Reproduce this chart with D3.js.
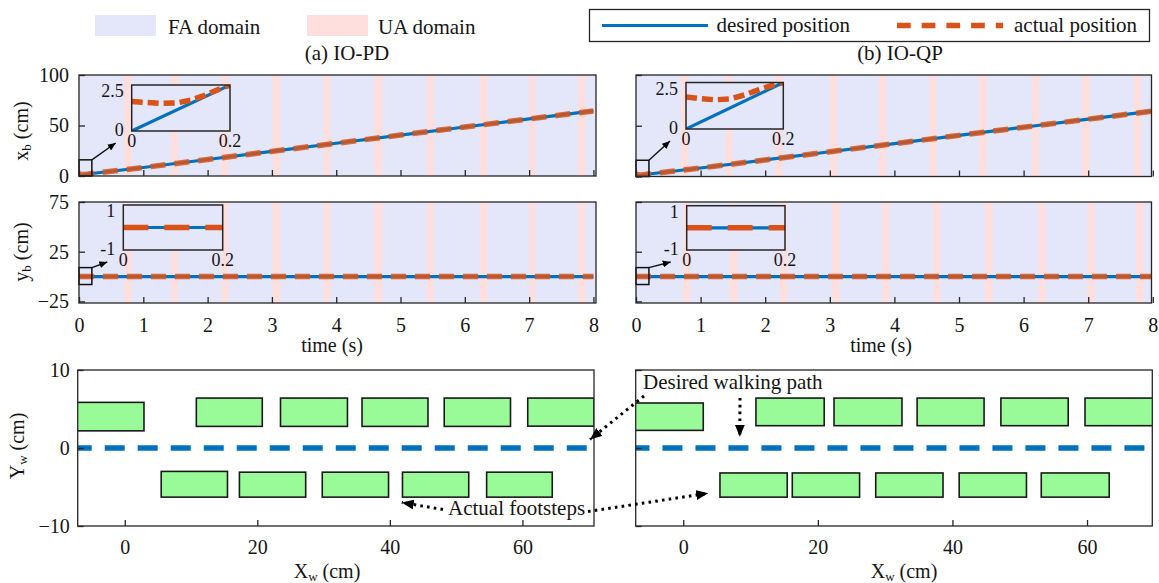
<!DOCTYPE html>
<html>
<head>
<meta charset="utf-8">
<script src="https://cdn.jsdelivr.net/npm/d3@7"></script>
<style>
  html, body { margin: 0; padding: 0; background: #fff; }
  svg { display: block; font-family: "Liberation Serif", "Times New Roman", serif; }
</style>
</head>
<body>
<svg id="fig" width="1159" height="583"></svg>
<script>
// ---- base position x_b (cm) over time (s) ----
const timeDesired = [0, 0.2, 1, 2, 3, 4, 5, 6, 7, 8];
const xbDesired   = [0, 2.5, 8.4, 16.3, 24.4, 32.4, 40.5, 48.5, 56.5, 64.4];
const timeActual  = [0, 0.03, 0.06, 0.09, 0.12, 0.15, 0.18, 0.2, 1, 2, 3, 4, 5, 6, 7, 8];
const xbActualPD  = [1.6, 1.55, 1.5, 1.52, 1.67, 1.95, 2.3, 2.5, 8.4, 16.3, 24.4, 32.4, 40.5, 48.5, 56.5, 64.4];
const xbActualQP  = [1.72, 1.63, 1.57, 1.62, 1.83, 2.12, 2.37, 2.5, 8.4, 16.3, 24.4, 32.4, 40.5, 48.5, 56.5, 64.4];

// ---- lateral position y_b (cm) ----
const ybTime      = [0, 8];
const ybDesired   = [0, 0];
const ybActualPD  = [0, 0];
const ybActualQP  = [0, 0];

// ---- underactuated (UA) intervals, s ----
const uaStartPD  = [0.70, 1.43, 2.21, 3.01, 3.80, 4.59, 5.41, 6.23, 7.00, 7.76];
const uaEndPD    = [0.82, 1.54, 2.32, 3.13, 3.91, 4.72, 5.52, 6.35, 7.10, 7.88];
const uaStartQPx = [0.70, 1.38, 2.16, 3.00, 3.76, 4.54, 5.31, 6.13, 6.90, 7.70];
const uaEndQPx   = [0.81, 1.49, 2.27, 3.11, 3.87, 4.65, 5.43, 6.24, 7.02, 7.82];
const uaStartQPy = [0.73, 1.45, 2.23, 3.03, 3.81, 4.60, 5.40, 6.23, 6.99, 7.74];
const uaEndQPy   = [0.84, 1.57, 2.34, 3.15, 3.92, 4.71, 5.52, 6.34, 7.10, 7.86];

// ---- tick values / labels ----
const timeTicks   = [0, 1, 2, 3, 4, 5, 6, 7, 8];
const xbTicks     = [0, 50, 100];
const ybTicks     = [-25, 25, 75];
const xwTicks     = [0, 20, 40, 60];
const ywTicks     = [-10, 0, 10];

// ---- footsteps in world frame (cm): x0, x1, y0, y1 ----
const stepPD_x0 = [-8, 10.8, 23.5, 35.8, 48.2, 60.8, 5.5, 17.3, 29.8, 41.9, 54.6];
const stepPD_x1 = [2.9, 20.75, 33.6, 45.75, 58.2, 70.8, 15.5, 27.3, 39.8, 51.9, 64.5];
const stepPD_y0 = [2.2, 2.77, 2.77, 2.77, 2.77, 2.8, -6.3, -6.3, -6.3, -6.3, -6.3];
const stepPD_y1 = [5.85, 6.4, 6.4, 6.4, 6.4, 6.4, -3.0, -3.1, -3.1, -3.1, -3.1];
const stepQP_x0 = [-8, 10.8, 22.4, 34.75, 47.2, 59.7, 5.45, 16.2, 28.6, 41.0, 53.2];
const stepQP_x1 = [2.97, 20.94, 32.5, 44.7, 57.2, 69.8, 15.45, 26.2, 38.6, 51.0, 63.3];
const stepQP_y0 = [2.26, 2.86, 2.86, 2.86, 2.86, 2.86, -6.3, -6.3, -6.3, -6.3, -6.3];
const stepQP_y1 = [5.77, 6.4, 6.4, 6.4, 6.4, 6.4, -3.2, -3.2, -3.2, -3.2, -3.2];
const pathX = [-8, 72];
const pathY = [0, 0];

// ---- styling ----
const FA = "#E4E6FA", UA = "#FFDEDE", BLUE = "#0072BD", ORANGE = "#D95319";
const AXIS = "#262626", TXT = "#151515", STEP = "#98FB98";

const svg = d3.select("#fig");
const defs = svg.append("defs");
svg.append("rect").attr("width", 1159).attr("height", 583).attr("fill", "#fff");

function addMarker(id, len, wid) {
  defs.append("marker").attr("id", id)
    .attr("viewBox", `0 0 ${len} ${wid}`)
    .attr("refX", len).attr("refY", wid / 2)
    .attr("markerWidth", len).attr("markerHeight", wid)
    .attr("markerUnits", "userSpaceOnUse").attr("orient", "auto")
    .append("path").attr("d", `M0,0L${len},${wid / 2}L0,${wid}Z`).attr("fill", "#000");
}
addMarker("tip", 8, 7);
addMarker("tipBig", 12, 10);

function styleAxis(a, fs) {
  a.select(".domain").remove();
  a.attr("font-family", null).attr("font-size", fs);
  a.selectAll(".tick line").attr("stroke", AXIS).attr("stroke-width", 1.3);
  a.selectAll(".tick text").attr("fill", TXT);
}

function clipRect(id, x, y, w, h) {
  defs.append("clipPath").attr("id", id)
    .append("rect").attr("x", x).attr("y", y).attr("width", w).attr("height", h);
  return `url(#${id})`;
}

// ---- time-series panel with UA stripes and a zoomed inset ----
function timePanel(o) {
  const g = svg.append("g");
  const xs = d3.scaleLinear().domain(o.tDomain).range([o.left, o.right]);
  const ys = d3.scaleLinear().domain(o.yDomain).range([o.bottom, o.top]);
  const w = o.right - o.left, h = o.bottom - o.top;

  g.append("rect").attr("x", o.left).attr("y", o.top).attr("width", w).attr("height", h).attr("fill", FA);
  const body = g.append("g").attr("clip-path", clipRect(o.id + "-c", o.left, o.top, w, h));
  body.selectAll("rect.ua").data(d3.range(o.uaStart.length)).join("rect")
    .attr("class", "ua")
    .attr("x", i => xs(o.uaStart[i])).attr("width", i => xs(o.uaEnd[i]) - xs(o.uaStart[i]))
    .attr("y", o.top).attr("height", h).attr("fill", UA);

  const line = d3.line().x(d => xs(d[0])).y(d => ys(d[1]));
  body.append("path").datum(d3.zip(o.tDes, o.vDes)).attr("d", line)
    .attr("fill", "none").attr("stroke", BLUE).attr("stroke-width", 3.2);
  body.append("path").datum(d3.zip(o.tAct, o.vAct)).attr("d", line)
    .attr("fill", "none").attr("stroke", ORANGE).attr("stroke-width", 5.5)
    .attr("stroke-dasharray", "15 9").attr("stroke-opacity", 0.85);

  // zoom window marker
  const bx0 = xs(o.box[0]), bx1 = xs(o.box[1]), by0 = ys(o.box[2]), by1 = ys(o.box[3]);
  g.append("rect").attr("x", bx0).attr("y", by1).attr("width", bx1 - bx0).attr("height", by0 - by1)
    .attr("fill", "none").attr("stroke", "#111").attr("stroke-width", 1.5);

  // inset
  const il = o.left + o.inset.dx, it = o.top + o.inset.dy, iw = o.inset.w, ih = o.inset.h;
  const ix = d3.scaleLinear().domain([0, 0.2]).range([il, il + iw]);
  const iy = d3.scaleLinear().domain(o.inset.yDomain).range([it + ih, it]);
  g.append("rect").attr("x", il).attr("y", it).attr("width", iw).attr("height", ih).attr("fill", FA);
  const ib = g.append("g").attr("clip-path", clipRect(o.id + "-ic", il, it, iw, ih));
  const iline = d3.line().x(d => ix(d[0])).y(d => iy(d[1]));
  ib.append("path").datum(d3.zip(o.tDes, o.vDes)).attr("d", iline)
    .attr("fill", "none").attr("stroke", BLUE).attr("stroke-width", 3.2);
  ib.append("path").datum(d3.zip(o.tAct, o.vAct)).attr("d", iline)
    .attr("fill", "none").attr("stroke", ORANGE).attr("stroke-width", 5.5)
    .attr("stroke-dasharray", o.inset.dash);
  g.append("rect").attr("x", il).attr("y", it).attr("width", iw).attr("height", ih)
    .attr("fill", "none").attr("stroke", AXIS).attr("stroke-width", 1.5);
  o.inset.yTicks.forEach(v => {
    const yy = Math.min(Math.max(iy(v), it + 6), it + ih - 1);
    g.append("text").attr("x", il - 8).attr("y", yy).attr("dy", "0.34em")
      .attr("text-anchor", "end").attr("font-size", 18).attr("fill", TXT).text(o.inset.fmt(v));
  });
  [0, 0.2].forEach(v => {
    g.append("text").attr("x", ix(v)).attr("y", it + ih + 16).attr("text-anchor", "middle")
      .attr("font-size", 18).attr("fill", TXT).text(v === 0 ? "0" : "0.2");
  });

  // pointer from marker to inset
  g.append("line").attr("x1", bx1).attr("y1", by1).attr("x2", il - 16).attr("y2", it + ih + 12)
    .attr("stroke", "#111").attr("stroke-width", 1.4).attr("marker-end", "url(#tip)");

  // axes
  g.append("g").attr("transform", `translate(0,${o.bottom})`)
    .call(d3.axisBottom(xs).tickValues(timeTicks).tickSize(-6).tickPadding(15)
      .tickFormat(o.showX ? d3.format("d") : () => ""))
    .call(a => styleAxis(a, 20));
  g.append("g").attr("transform", `translate(${o.left},0)`)
    .call(d3.axisLeft(ys).tickValues(o.yTicks).tickSize(-6).tickPadding(10)
      .tickFormat(o.showY ? d3.format("d") : () => ""))
    .call(a => styleAxis(a, 20));
  g.append("rect").attr("x", o.left).attr("y", o.top).attr("width", w).attr("height", h)
    .attr("fill", "none").attr("stroke", AXIS).attr("stroke-width", 1.3);
  return { xs, ys };
}

// ---- footstep panel ----
function stepPanel(o) {
  const g = svg.append("g");
  const xs = d3.scaleLinear().domain(o.xDomain).range([o.left, o.right]);
  const ys = d3.scaleLinear().domain([-10, 10]).range([o.bottom, o.top]);
  const w = o.right - o.left, h = o.bottom - o.top;
  const body = g.append("g").attr("clip-path", clipRect(o.id + "-c", o.left, o.top, w, h));
  body.selectAll("rect.step").data(d3.range(o.x0.length)).join("rect")
    .attr("class", "step")
    .attr("x", i => xs(o.x0[i])).attr("width", i => xs(o.x1[i]) - xs(o.x0[i]))
    .attr("y", i => ys(o.y1[i])).attr("height", i => ys(o.y0[i]) - ys(o.y1[i]))
    .attr("fill", STEP).attr("stroke", "#1a1a1a").attr("stroke-width", 1.6);
  body.append("path").datum(d3.zip(pathX, pathY))
    .attr("d", d3.line().x(d => xs(d[0])).y(d => ys(d[1])))
    .attr("fill", "none").attr("stroke", BLUE).attr("stroke-width", 5.5)
    .attr("stroke-dasharray", "20 13").attr("stroke-dashoffset", o.dashOffset);

  g.append("g").attr("transform", `translate(0,${o.bottom})`)
    .call(d3.axisBottom(xs).tickValues(xwTicks).tickSize(-6).tickPadding(14).tickFormat(d3.format("d")))
    .call(a => styleAxis(a, 20));
  g.append("g").attr("transform", `translate(${o.left},0)`)
    .call(d3.axisLeft(ys).tickValues(ywTicks).tickSize(-6).tickPadding(8)
      .tickFormat(o.showY ? d3.format("d") : () => ""))
    .call(a => styleAxis(a, 20));
  g.append("rect").attr("x", o.left).attr("y", o.top).attr("width", w).attr("height", h)
    .attr("fill", "none").attr("stroke", AXIS).attr("stroke-width", 1.3);
  return { xs, ys };
}

// ---- (a) IO-PD ----
timePanel({ id: "pdx", left: 79, right: 596, top: 75, bottom: 176,
  tDomain: [0, 8.04], yDomain: [0, 100], yTicks: xbTicks, showY: true, showX: false,
  uaStart: uaStartPD, uaEnd: uaEndPD,
  tDes: timeDesired, vDes: xbDesired, tAct: timeActual, vAct: xbActualPD,
  box: [0, 0.2, 0, 16],
  inset: { dx: 52.7, dy: 10, w: 98.3, h: 46, yDomain: [0, 2.5], yTicks: [2.5, 0],
           fmt: v => v === 0 ? "0" : "2.5", dash: "11 5" } });
timePanel({ id: "pdy", left: 79, right: 596, top: 202, bottom: 303,
  tDomain: [0, 8.04], yDomain: [-26.6, 75], yTicks: ybTicks, showY: true, showX: true,
  uaStart: uaStartPD, uaEnd: uaEndPD,
  tDes: ybTime, vDes: ybDesired, tAct: ybTime, vAct: ybActualPD,
  box: [0, 0.2, -8, 9],
  inset: { dx: 44.3, dy: 3, w: 99.4, h: 45, yDomain: [-1, 1], yTicks: [1, -1],
           fmt: v => v > 0 ? "1" : "-1", dash: "25 16" } });

// ---- (b) IO-QP ----
timePanel({ id: "qpx", left: 636, right: 1151.5, top: 75, bottom: 176.5,
  tDomain: [0, 7.98], yDomain: [0, 100], yTicks: xbTicks, showY: false, showX: false,
  uaStart: uaStartQPx, uaEnd: uaEndQPx,
  tDes: timeDesired, vDes: xbDesired, tAct: timeActual, vAct: xbActualQP,
  box: [0, 0.2, 0, 16],
  inset: { dx: 50, dy: 7.5, w: 97.3, h: 46.5, yDomain: [0, 2.5], yTicks: [2.5, 0],
           fmt: v => v === 0 ? "0" : "2.5", dash: "11 5" } });
timePanel({ id: "qpy", left: 636, right: 1151.5, top: 202, bottom: 303,
  tDomain: [0, 7.98], yDomain: [-26.6, 75], yTicks: ybTicks, showY: false, showX: true,
  uaStart: uaStartQPy, uaEnd: uaEndQPy,
  tDes: ybTime, vDes: ybDesired, tAct: ybTime, vAct: ybActualQP,
  box: [0, 0.2, -8, 9],
  inset: { dx: 50.7, dy: 3.7, w: 98.3, h: 44.3, yDomain: [-1, 1], yTicks: [1, -1],
           fmt: v => v > 0 ? "1" : "-1", dash: "25 16" } });

const A = stepPanel({ id: "pdw", left: 77.7, right: 594, top: 370, bottom: 526,
  xDomain: [-7.1, 70.8], x0: stepPD_x0, x1: stepPD_x1, y0: stepPD_y0, y1: stepPD_y1,
  showY: true, dashOffset: 0 });
const B = stepPanel({ id: "qpw", left: 635.7, right: 1152.3, top: 370, bottom: 526,
  xDomain: [-7.07, 69.7], x0: stepQP_x0, x1: stepQP_x1, y0: stepQP_y0, y1: stepQP_y1,
  showY: false, dashOffset: 0 });

// ---- annotations on the footstep panels ----
function dotted(x1, y1, x2, y2) {
  svg.append("line").attr("x1", x1).attr("y1", y1).attr("x2", x2).attr("y2", y2)
    .attr("stroke", "#000").attr("stroke-width", 3).attr("stroke-dasharray", "2.6 4.2")
    .attr("marker-end", "url(#tipBig)");
}
svg.append("text").attr("x", 643).attr("y", 389).attr("font-size", 21).attr("fill", TXT)
  .text("Desired walking path");
dotted(644, 396, A.xs(70.2), A.ys(1.1));
dotted(740, 398, B.xs(8.4), B.ys(1.45));
svg.append("text").attr("x", 448).attr("y", 515).attr("font-size", 21).attr("fill", TXT)
  .text("Actual footsteps");
dotted(443, 509.5, A.xs(41.8), A.ys(-7.0));
dotted(588, 511.5, B.xs(3.7), B.ys(-5.8));

// ---- axis titles ----
function subLabel(x, y, main, sub, rest, rotate) {
  const t = svg.append("text").attr("font-size", 20).attr("fill", TXT).attr("text-anchor", "middle")
    .attr("transform", `translate(${x},${y})` + (rotate ? " rotate(-90)" : ""));
  t.append("tspan").text(main);
  t.append("tspan").attr("font-size", 13).attr("dy", 3).text(sub);
  t.append("tspan").attr("dy", -3).text(rest);
}
subLabel(28, 131, "x", "b", " (cm)", true);
subLabel(28, 252, "y", "b", " (cm)", true);
subLabel(24, 446, "Y", "w", " (cm)", true);
subLabel(327, 578, "X", "w", " (cm)", false);
subLabel(904, 578, "X", "w", " (cm)", false);
[332, 881].forEach(cx => svg.append("text").attr("x", cx).attr("y", 352)
  .attr("text-anchor", "middle").attr("font-size", 20).attr("fill", TXT).text("time (s)"));

// ---- titles ----
svg.append("text").attr("x", 347).attr("y", 60).attr("text-anchor", "middle")
  .attr("font-size", 21).attr("fill", TXT).text("(a) IO-PD");
svg.append("text").attr("x", 900).attr("y", 60).attr("text-anchor", "middle")
  .attr("font-size", 21).attr("fill", TXT).text("(b) IO-QP");

// ---- legends ----
const domainLegend = [
  { label: "FA domain", fill: FA, x: 95, tx: 168 },
  { label: "UA domain", fill: UA, x: 307, tx: 378 }
];
domainLegend.forEach(d => {
  svg.append("rect").attr("x", d.x).attr("y", 15).attr("width", 61).attr("height", 21).attr("fill", d.fill);
  svg.append("text").attr("x", d.tx).attr("y", 33.5).attr("font-size", 21).attr("fill", TXT).text(d.label);
});
svg.append("rect").attr("x", 589.5).attr("y", 9.5).attr("width", 560).attr("height", 32)
  .attr("fill", "#fff").attr("stroke", AXIS).attr("stroke-width", 1.3);
const lineLegend = [
  { label: "desired position", color: BLUE, w: 3.2, dash: null, x0: 602, x1: 708, tx: 716.5 },
  { label: "actual position", color: ORANGE, w: 5.5, dash: "13.7 11", x0: 897, x1: 1003, tx: 1014 }
];
lineLegend.forEach(d => {
  svg.append("line").attr("x1", d.x0).attr("x2", d.x1).attr("y1", 25.5).attr("y2", 25.5)
    .attr("stroke", d.color).attr("stroke-width", d.w).attr("stroke-dasharray", d.dash);
  svg.append("text").attr("x", d.tx).attr("y", 32).attr("font-size", 21).attr("fill", TXT).text(d.label);
});
</script>
</body>
</html>
